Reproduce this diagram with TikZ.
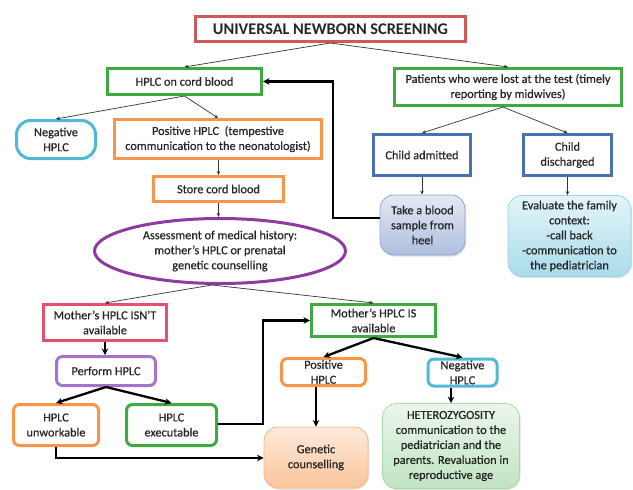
\documentclass[tikz,border=0pt]{standalone}
\usepackage{fontspec}
\setmainfont{Carlito}
\newfontfamily\heavy{Carlito}[FakeBold=0.6]
\usetikzlibrary{arrows.meta,shapes.geometric,shadows}
\definecolor{cred}{HTML}{D05858}
\definecolor{cpink}{HTML}{E5506C}
\definecolor{cgreen}{HTML}{3DAA42}
\definecolor{corange}{HTML}{F7964A}
\definecolor{ccyan}{HTML}{52B8D8}
\definecolor{cblue}{HTML}{4A6FB5}
\definecolor{cpurple}{HTML}{A574C8}
\definecolor{cviolet}{HTML}{8E3A9E}
\tikzset{
  box/.style={draw, line width=3pt, align=center, inner sep=1pt, font=\heavy\fontsize{12.3}{15}\selectfont, text=black!85},
  soft/.style={draw, line width=0.8pt, rounded corners=14pt, align=center, inner sep=1pt, font=\heavy\fontsize{12.3}{15}\selectfont, text=black!85, drop shadow={shadow xshift=1pt,shadow yshift=-1.5pt,opacity=0.25}},
  thin/.style={-{Stealth[length=4pt,width=3.5pt]}, line width=0.7pt, draw=black!80},
  thick/.style={-{Stealth[length=6.5pt,width=6.5pt]}, line width=2.3pt},
}
\begin{document}
\begin{tikzpicture}[x=1pt,y=-1pt]
\useasboundingbox (0,0) rectangle (633,490);
% nodes
\node[box, draw=cred, minimum width=270, minimum height=25, font=\fontsize{16.3}{18}\selectfont\bfseries] (title) at (330.5,29) {UNIVERSAL NEWBORN SCREENING};
\node[box, draw=cgreen, minimum width=154, minimum height=26] (cord) at (184.5,81.5) {HPLC on cord blood};
\node[box, draw=cgreen, minimum width=227, minimum height=37] (lost) at (508,87) {Patients who were lost at the test (timely\\reporting by midwives)};
\node[box, draw=ccyan, rounded corners=14pt, minimum width=79, minimum height=38] (neg1) at (56,139.5) {Negative\\HPLC};
\node[box, draw=corange, minimum width=207, minimum height=39] (pos1) at (218,139) {Positive HPLC\ \ (tempestive\\communication to the neonatologist)};
\node[box, draw=cblue, minimum width=97, minimum height=41] (adm) at (422,155) {Child admitted};
\node[box, draw=cblue, minimum width=88, minimum height=41] (dis) at (567.5,155) {Child\\discharged};
\node[box, draw=corange, minimum width=130, minimum height=25] (store) at (218.5,189) {Store cord blood};
\node[soft, draw=cblue!60, top color=cblue!15, bottom color=cblue!45, minimum width=85, minimum height=60] (heel) at (422.5,225) {Take a blood\\sample from\\heel};
\node[soft, draw=ccyan!60, top color=ccyan!15, bottom color=ccyan!50, minimum width=123, minimum height=81] (eval) at (569.5,236) {Evaluate the family\\context:\\-call back\\-communication to\\the pediatrician};
\node[ellipse, draw=cviolet, line width=3pt, align=center, inner sep=0pt, minimum width=251, minimum height=65, font=\heavy\fontsize{12.3}{15}\selectfont, text=black!85] (assess) at (220,251) {Assessment of medical history:\\mother’s HPLC or prenatal\\genetic counselling};
\node[box, draw=cpink, minimum width=123, minimum height=36] (isnt) at (105,322.5) {Mother’s HPLC ISN’T\\available};
\node[box, draw=cgreen, minimum width=124, minimum height=32] (is) at (373.5,320.5) {Mother’s HPLC IS\\available};
\node[box, draw=cpurple, rounded corners=6pt, minimum width=99, minimum height=29] (perf) at (106,371) {Perform HPLC};
\node[box, draw=corange, rounded corners=6pt, minimum width=84, minimum height=27] (pos2) at (323.5,372) {Positive\\HPLC};
\node[box, draw=ccyan, rounded corners=6pt, minimum width=69, minimum height=27] (neg2) at (462.5,372.5) {Negative\\HPLC};
\node[box, draw=corange, rounded corners=6pt, minimum width=85, minimum height=41] (unw) at (56,425) {HPLC\\unworkable};
\node[box, draw=cgreen, rounded corners=6pt, minimum width=90, minimum height=41] (exe) at (171.5,425) {HPLC\\executable};
\node[soft, draw=corange!70, top color=corange!20, bottom color=corange!55, minimum width=104, minimum height=61] (gen) at (316,457.5) {Genetic\\counselling};
\node[soft, draw=cgreen!45, top color=cgreen!10, bottom color=cgreen!32, minimum width=137, minimum height=85] (het) at (451,446) {HETEROZYGOSITY\\communication to the\\pediatrician and the\\parents. Revaluation in\\reproductive age};
% thin connectors
\draw[thin] (title.south) -- (cord.north);
\draw[thin] (title.south) -- (lost.north);
\draw[thin] (cord.south) -- (neg1.north);
\draw[thin] (cord.south) -- (pos1.north);
\draw[thin] (pos1.south -| store) -- (store.north);
\draw[thin] (store.south) -- (assess.north -| store);
\draw[thin] ([xshift=-8pt]assess.south) -- (isnt.north);
\draw[thin] ([xshift=-8pt]assess.south) -- (is.north);
\draw[thin] ([xshift=-5pt]lost.south) -- (adm.north);
\draw[thin] ([xshift=-5pt]lost.south) -- (dis.north);
\draw[thin] (adm.south) -- (heel.north -| adm);
\draw[thin] (dis.south) -- (eval.north -| dis);
% thick connectors
\coordinate (h1) at (333,218);
\draw[thick] (heel.west |- h1) -- (h1) |- (cord.east);
\draw[thick] (isnt.south) -- (perf.north -| isnt);
\draw[thick] (perf.south) -- (unw.north);
\draw[thick] (perf.south) -- (exe.north);
\coordinate (e1) at (263,424);
\draw[thick] (exe.east |- e1) -- (e1) |- (is.west);
\draw[thick] (is.south) -- (pos2.north);
\draw[thick] (is.south) -- (neg2.north);
\draw[thick] (pos2.south -| gen) -- (gen.north);
\draw[thick] (neg2.south -| het) -- (het.north);
\coordinate (u1) at (56,458);
\draw[thick] (unw.south -| u1) -- (u1) -- (gen.west |- u1);
\end{tikzpicture}
\end{document}
